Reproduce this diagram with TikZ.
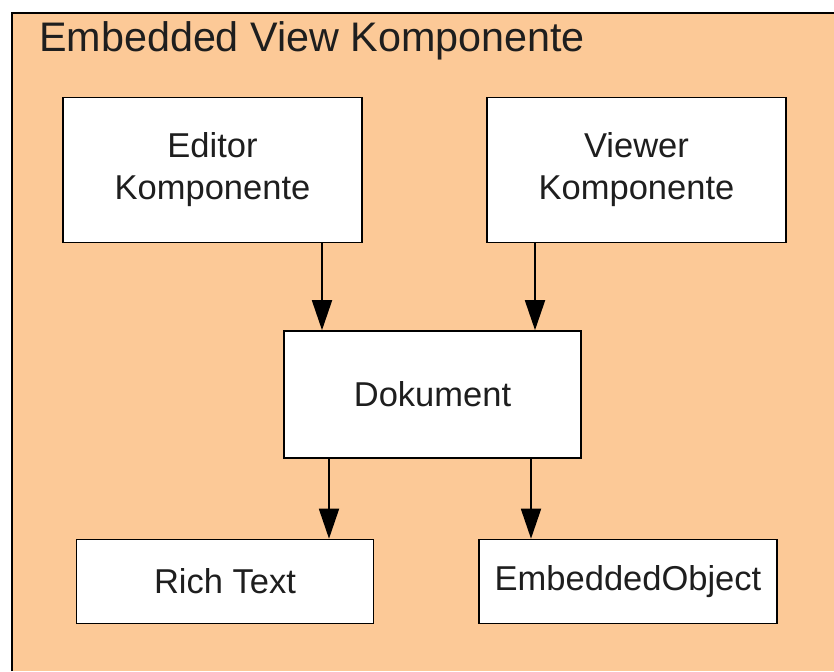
\documentclass[tikz,border=0pt]{standalone}
\usepackage{fontspec}
\setmainfont{Liberation Sans}
\usetikzlibrary{arrows.meta}
\definecolor{panel}{RGB}{252,201,151}
\definecolor{ink}{RGB}{30,30,30}
\tikzset{
  compbox/.style={draw=black, line width=1.6pt, fill=white, inner sep=0pt,
    align=center, font=\fontsize{34.5}{42}\selectfont, text=ink},
  arr/.style={line width=1.8pt, -{Triangle[length=30pt,width=20pt]}}
}
\begin{document}
\begin{tikzpicture}[x=1pt,y=-1pt]
  \useasboundingbox (0,0) rectangle (834,671);
  % outer component panel
  \fill[panel] (12,13) rectangle (834,671);
  \draw[line width=2.5pt, black] (12,671) -- (12,13) -- (834,13);
  \node[anchor=base west, inner sep=0pt, text=ink,
        font=\fontsize{41.3}{48}\selectfont] (title) at (39,52) {Embedded View Komponente};
  % inner components
  \node[compbox, minimum width=299pt, minimum height=145pt] (editor) at (212.5,170) {Editor\\Komponente};
  \node[compbox, minimum width=299pt, minimum height=145pt] (viewer) at (636.5,170) {Viewer\\Komponente};
  \node[compbox, minimum width=297pt, minimum height=127pt] (dok) at (432.5,394.5) {Dokument};
  \node[compbox, minimum width=297pt, minimum height=84pt] (rich) at (225,581.5) {Rich Text};
  \node[compbox, minimum width=298pt, minimum height=84pt] (emb) at (628,581.5) {EmbeddedObject};
  % connector columns
  \coordinate (c1) at (322,0);
  \coordinate (c2) at (535,0);
  \coordinate (c3) at (329,0);
  \coordinate (c4) at (531,0);
  \draw[arr] (editor.south -| c1) -- (dok.north -| c1);
  \draw[arr] (viewer.south -| c2) -- (dok.north -| c2);
  \draw[arr] (dok.south -| c3) -- (rich.north -| c3);
  \draw[arr] (dok.south -| c4) -- (emb.north -| c4);
\end{tikzpicture}
\end{document}
